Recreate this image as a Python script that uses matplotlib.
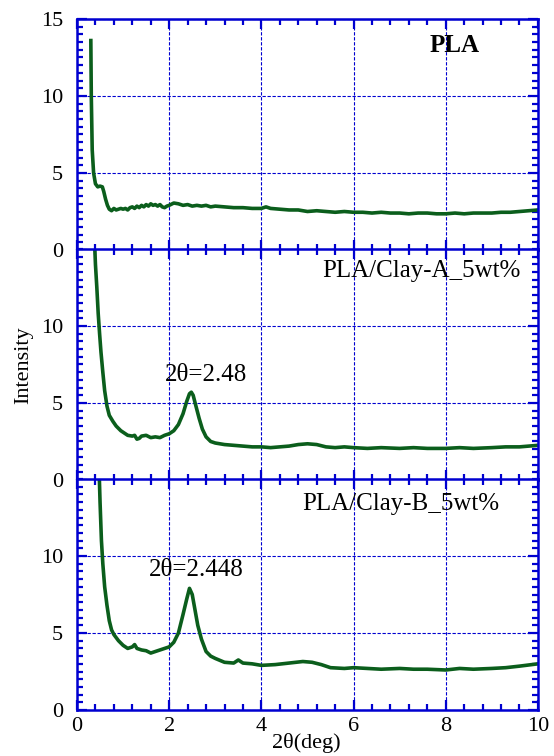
import numpy as np
import matplotlib
matplotlib.use('Agg')
import matplotlib.pyplot as plt
from matplotlib.ticker import MultipleLocator

plt.rcParams['font.family'] = ['Liberation Serif', 'DejaVu Serif']

# 2theta / intensity
x_pla = [0.30, 0.31, 0.33, 0.36, 0.40, 0.45, 0.50, 0.55, 0.58, 0.62, 0.66, 0.70, 0.75, 0.8, 0.85, 0.9,
         0.95, 1.0, 1.05, 1.1, 1.15, 1.2, 1.25, 1.3, 1.35, 1.4, 1.45, 1.5, 1.55, 1.6, 1.65, 1.7, 1.75,
         1.8, 1.85, 1.9, 1.95, 2.0, 2.1, 2.2, 2.3, 2.4, 2.5, 2.6, 2.7, 2.8, 2.9, 3.0, 3.2, 3.4,
         3.6, 3.8, 4.0, 4.1, 4.2, 4.4, 4.6, 4.8, 5.0, 5.2, 5.4, 5.6, 5.8, 6.0, 6.2, 6.4, 6.6, 6.8,
         7.0, 7.2, 7.4, 7.6, 7.8, 8.0, 8.2, 8.4, 8.6, 8.8, 9.0, 9.2, 9.4, 9.6, 9.8, 10.0]
y_pla = [13.6, 10.0, 6.5, 5.0, 4.3, 4.1, 4.15, 4.1, 3.8, 3.3, 2.9, 2.65, 2.55, 2.7, 2.6, 2.65,
         2.7, 2.65, 2.7, 2.6, 2.75, 2.8, 2.7, 2.85, 2.75, 2.9, 2.8, 2.95, 2.85, 3.0, 2.9, 2.95, 2.85,
         2.95, 2.8, 2.75, 2.85, 2.9, 3.05, 3.0, 2.9, 2.95, 2.85, 2.9, 2.85, 2.9, 2.8, 2.85, 2.8, 2.75,
         2.75, 2.7, 2.7, 2.8, 2.7, 2.65, 2.6, 2.6, 2.5, 2.55, 2.5, 2.45, 2.5, 2.45, 2.45, 2.4, 2.45, 2.4,
         2.4, 2.35, 2.4, 2.4, 2.35, 2.35, 2.4, 2.35, 2.4, 2.4, 2.4, 2.45, 2.45, 2.5, 2.55, 2.6]

x_a = [0.38, 0.40, 0.43, 0.46, 0.49, 0.52, 0.56, 0.60, 0.65, 0.70, 0.78, 0.85, 0.95, 1.05, 1.1,
       1.2, 1.25, 1.3, 1.35, 1.4, 1.5, 1.6, 1.7, 1.8, 1.9, 2.0, 2.1, 2.2, 2.3, 2.38, 2.44, 2.48,
       2.52, 2.58, 2.65, 2.72, 2.8, 2.9, 3.0, 3.2, 3.4, 3.6, 3.8, 4.0, 4.2, 4.4, 4.6, 4.8, 5.0,
       5.2, 5.4, 5.6, 5.8, 6.0, 6.3, 6.6, 7.0, 7.3, 7.6, 8.0, 8.3, 8.6, 9.0, 9.3, 9.6, 10.0]
y_a = [15.5, 14.0, 12.5, 10.8, 9.5, 8.3, 7.0, 5.8, 4.8, 4.2, 3.8, 3.5, 3.2, 3.0, 2.9,
       2.85, 2.9, 2.65, 2.7, 2.85, 2.9, 2.75, 2.8, 2.75, 2.9, 3.0, 3.2, 3.6, 4.3, 5.1, 5.6, 5.7,
       5.5, 4.8, 4.0, 3.3, 2.8, 2.5, 2.4, 2.3, 2.25, 2.2, 2.15, 2.15, 2.1, 2.15, 2.2, 2.3, 2.35,
       2.3, 2.15, 2.1, 2.15, 2.1, 2.05, 2.1, 2.05, 2.1, 2.05, 2.05, 2.1, 2.05, 2.1, 2.15, 2.15, 2.25]

x_b = [0.48, 0.50, 0.53, 0.56, 0.60, 0.65, 0.70, 0.75, 0.80, 0.9, 1.0, 1.1, 1.2, 1.25, 1.3,
       1.4, 1.5, 1.6, 1.7, 1.8, 1.9, 2.0, 2.1, 2.2, 2.3, 2.38, 2.44, 2.5, 2.56, 2.62, 2.7, 2.8,
       2.9, 3.0, 3.2, 3.4, 3.5, 3.6, 3.8, 4.0, 4.3, 4.6, 4.9, 5.1, 5.3, 5.5, 5.8, 6.0, 6.3, 6.6,
       7.0, 7.3, 7.6, 8.0, 8.3, 8.6, 9.0, 9.3, 9.6, 10.0]
y_b = [15.5, 13.5, 11.0, 9.5, 8.0, 6.8, 5.8, 5.2, 4.9, 4.5, 4.2, 4.0, 4.1, 4.25, 4.0,
       3.9, 3.85, 3.7, 3.8, 3.9, 4.0, 4.1, 4.4, 5.0, 6.2, 7.2, 7.9, 7.5, 6.5, 5.5, 4.6, 3.8,
       3.5, 3.35, 3.1, 3.05, 3.25, 3.05, 3.0, 2.9, 2.95, 3.05, 3.15, 3.1, 2.95, 2.75, 2.7, 2.75, 2.7, 2.65,
       2.7, 2.65, 2.65, 2.6, 2.7, 2.65, 2.7, 2.75, 2.85, 3.0]

blue = '#0000d0'
green = '#0b5e1c'

fig = plt.figure(figsize=(5.54, 7.56), dpi=100)
left, width, h = 0.139, 0.832, 0.3056
bottoms = [0.6693, 0.3651, 0.0608]
data = [(x_pla, y_pla), (x_a, y_a), (x_b, y_b)]
axes = []
for i in range(3):
    ax = fig.add_axes([left, bottoms[i], width, h])
    ax.plot(data[i][0], data[i][1], color=green, lw=2.6, solid_joinstyle='round')
    ax.set_xlim(0, 10)
    ax.set_ylim(0, 15)
    ax.xaxis.set_major_locator(MultipleLocator(2))
    ax.xaxis.set_minor_locator(MultipleLocator(0.4))
    ax.yaxis.set_major_locator(MultipleLocator(5))
    ax.yaxis.set_minor_locator(MultipleLocator(0.5))
    ax.grid(True, which='major', color=blue, ls=(0, (3, 1.5)), lw=0.8)
    for s in ax.spines.values():
        s.set_color(blue)
        s.set_linewidth(1.8)
    ax.tick_params(which='both', direction='in', top=True, right=True, color=blue,
                   labelsize=16, width=1.6)
    ax.tick_params(which='major', length=7)
    ax.tick_params(which='minor', length=4)
    ax.tick_params(axis='y', pad=10)
    ax.tick_params(axis='x', pad=5)
    if i < 2:
        ax.tick_params(labelbottom=False)
    if i == 0:
        ax.set_yticks([0, 5, 10, 15])
    else:
        ax.set_yticks([0, 5, 10])
    axes.append(ax)

axes[0].text(8.2, 13.3, 'PLA', fontsize=18, fontweight='bold', ha='center', va='center')
axes[1].text(7.48, 13.6, 'PLA/Clay-A_5wt%', fontsize=18, ha='center', va='center')
axes[1].text(2.80, 6.8, '2θ=2.48', fontsize=18, ha='center', va='center')
axes[2].text(7.03, 13.4, 'PLA/Clay-B_5wt%', fontsize=18, ha='center', va='center')
axes[2].text(2.58, 9.1, '2θ=2.448', fontsize=18, ha='center', va='center')

fig.text(0.553, 0.017, '2θ(deg)', fontsize=16, ha='center', va='center')
fig.text(0.043, 0.517, 'Intensity', rotation=90, fontsize=16, ha='center', va='center')

fig.savefig('out.png', dpi=100)
